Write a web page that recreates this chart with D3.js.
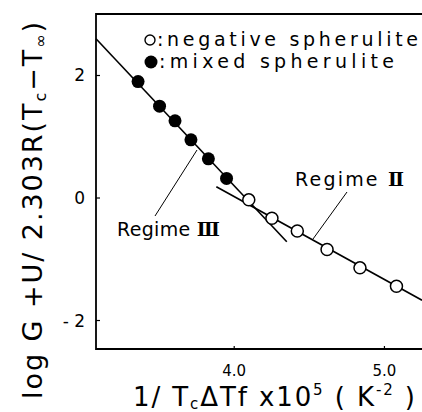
<!DOCTYPE html>
<html lang="en">
<head>
<meta charset="UTF-8">
<title>Regime plot</title>
<script src="https://d3js.org/d3.v7.min.js"></script>
<style>
  body { margin: 0; background: #fff; }
  svg { display: block; }
  text { font-family: "DejaVu Sans", sans-serif; fill: #000; }
  .roman { font-family: "DejaVu Serif", serif; font-weight: bold; }
</style>
</head>
<body>
<svg id="chart" width="422" height="412"></svg>
<script>
// values (x = 1/TcΔTf x10^5, y = log G + U/2.303R(Tc-T∞))
const mixedX = [3.360, 3.503, 3.606, 3.712, 3.828, 3.949];
const mixedY = [1.90, 1.50, 1.26, 0.95, 0.64, 0.32];
const negX = [4.097, 4.251, 4.420, 4.618, 4.837, 5.080];
const negY = [-0.03, -0.33, -0.54, -0.84, -1.14, -1.44];
const regime3X = [3.08, 4.350];
const regime3Y = [2.60, -0.713];
const regime2X = [3.881, 5.25];
const regime2Y = [0.184, -1.668];
const xTicks = [4.0, 5.0];
const xTickLabels = ["4.0", "5.0"];
const yTicks = [2, 0, -2];
const yTickLabels = ["2", "0", "- 2"];

const svg = d3.select('#chart');
const m = {l: 96, t: 14, r: 422, b: 349};

const x = d3.scaleLinear().domain([3.08, 5.25]).range([m.l, m.r]);
const y = d3.scaleLinear().domain([-2.465, 3.004]).range([m.b, m.t]);

// frame: left, bottom, top (right side is cut off)
svg.append('path')
    .attr('d', `M${m.r},${m.t}H${m.l}V${m.b}H${m.r}`)
    .attr('fill', 'none').attr('stroke', '#000').attr('stroke-width', 1.8);

// ticks point inward
svg.selectAll('line.yt').data(yTicks).join('line')
    .attr('class', 'yt')
    .attr('x1', m.l).attr('x2', m.l + 4)
    .attr('y1', d => y(d)).attr('y2', d => y(d))
    .attr('stroke', '#000').attr('stroke-width', 1.2);
svg.selectAll('line.xt').data(xTicks).join('line')
    .attr('class', 'xt')
    .attr('x1', d => x(d)).attr('x2', d => x(d))
    .attr('y1', m.b).attr('y2', m.b - 3)
    .attr('stroke', '#000').attr('stroke-width', 1.2);

svg.selectAll('text.yl').data(yTicks).join('text')
    .attr('class', 'yl')
    .attr('x', 85).attr('y', d => y(d) + 6)
    .attr('text-anchor', 'end').attr('font-size', 17)
    .text((d, i) => yTickLabels[i]);
svg.selectAll('text.xl').data(xTicks).join('text')
    .attr('class', 'xl')
    .attr('x', d => x(d)).attr('y', 376)
    .attr('text-anchor', 'middle').attr('font-size', 15)
    .text((d, i) => xTickLabels[i]);

// fitted lines
const line = d3.line().x(d => x(d[0])).y(d => y(d[1]));
svg.append('path').datum(d3.zip(regime3X, regime3Y))
    .attr('d', line).attr('fill', 'none').attr('stroke', '#000').attr('stroke-width', 1.6);
svg.append('path').datum(d3.zip(regime2X, regime2Y))
    .attr('d', line).attr('fill', 'none').attr('stroke', '#000').attr('stroke-width', 1.6);

// points
svg.selectAll('circle.mixed').data(d3.zip(mixedX, mixedY)).join('circle')
    .attr('class', 'mixed')
    .attr('cx', d => x(d[0])).attr('cy', d => y(d[1])).attr('r', 6.5)
    .attr('fill', '#000');
svg.selectAll('circle.neg').data(d3.zip(negX, negY)).join('circle')
    .attr('class', 'neg')
    .attr('cx', d => x(d[0])).attr('cy', d => y(d[1])).attr('r', 6)
    .attr('fill', '#fff').attr('stroke', '#000').attr('stroke-width', 1.5);

// regime labels + pointers
svg.append('line').attr('x1', 197).attr('y1', 150).attr('x2', 155).attr('y2', 216)
    .attr('stroke', '#000').attr('stroke-width', 1);
svg.append('line').attr('x1', 347).attr('y1', 192).attr('x2', 313).attr('y2', 239)
    .attr('stroke', '#000').attr('stroke-width', 1);
const r3 = svg.append('text').attr('x', 117).attr('y', 236).attr('font-size', 19)
    .attr('textLength', 103).attr('lengthAdjust', 'spacing');
r3.append('tspan').text('Regime ');
r3.append('tspan').attr('class', 'roman').text('Ⅲ');
const r2 = svg.append('text').attr('x', 295).attr('y', 186).attr('font-size', 19)
    .attr('textLength', 109).attr('lengthAdjust', 'spacing');
r2.append('tspan').text('Regime ');
r2.append('tspan').attr('class', 'roman').text('Ⅱ');

// legend
svg.append('circle').attr('cx', 150).attr('cy', 40).attr('r', 5)
    .attr('fill', '#fff').attr('stroke', '#000').attr('stroke-width', 1.4);
svg.append('circle').attr('cx', 151).attr('cy', 62).attr('r', 6.5).attr('fill', '#000');
svg.append('text').attr('x', 157).attr('y', 46).attr('font-size', 19)
    .attr('textLength', 261).attr('lengthAdjust', 'spacing')
    .text(':negative spherulite');
svg.append('text').attr('x', 159).attr('y', 68).attr('font-size', 19)
    .attr('textLength', 235).attr('lengthAdjust', 'spacing')
    .text(':mixed spherulite');

// axis titles
const xt = svg.append('text').attr('x', 133).attr('y', 406).attr('font-size', 26)
    .attr('textLength', 282).attr('lengthAdjust', 'spacing');
xt.append('tspan').text('1/ T');
xt.append('tspan').attr('font-size', 15).attr('dy', 3).text('c');
xt.append('tspan').attr('dy', -3).text('ΔTf x10');
xt.append('tspan').attr('font-size', 15).attr('dy', -11).text('5');
xt.append('tspan').attr('dy', 11).text(' ( K');
xt.append('tspan').attr('font-size', 15).attr('dy', -11).text('-2');
xt.append('tspan').attr('dy', 11).text(' )');

const yt = svg.append('text').attr('transform', 'translate(42,399) rotate(-90)')
    .attr('font-size', 27)
    .attr('textLength', 377).attr('lengthAdjust', 'spacing');
yt.append('tspan').text('log G +U/ 2.303R(T');
yt.append('tspan').attr('font-size', 16).attr('dy', 4).text('c');
yt.append('tspan').attr('dy', -4).text('−T');
yt.append('tspan').attr('font-size', 16).attr('dy', 4).text('∞');
yt.append('tspan').attr('dy', -4).text(')');
</script>
</body>
</html>
